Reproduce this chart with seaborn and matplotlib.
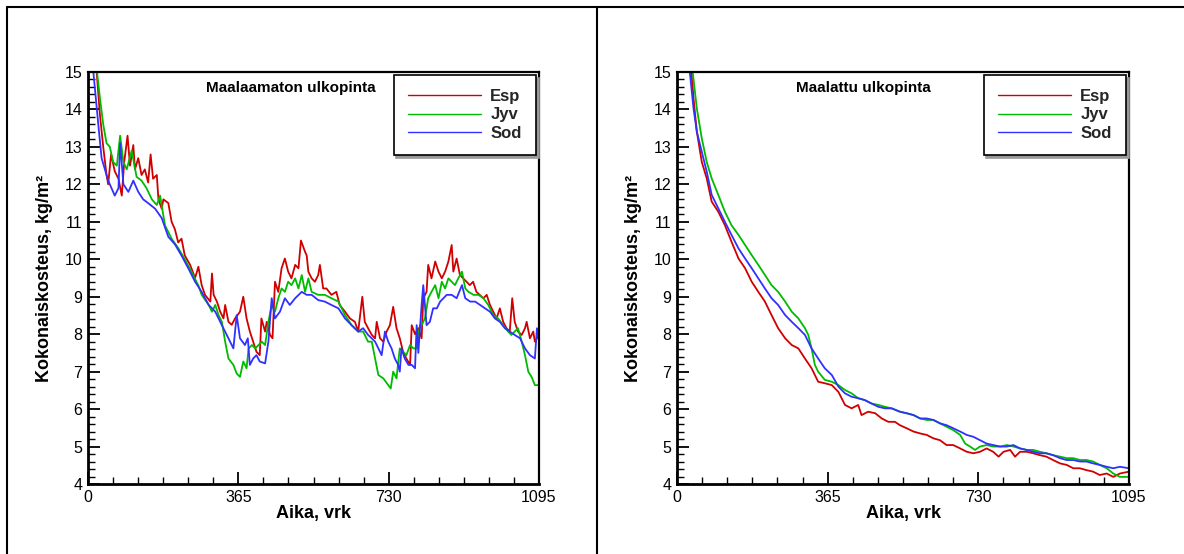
import matplotlib
matplotlib.use("Agg")
import matplotlib.pyplot as plt
import seaborn as sns
import pandas as pd
from matplotlib.ticker import MultipleLocator, FixedLocator
from matplotlib.lines import Line2D

# ---------------- data ----------------
sites = ["Esp", "Jyv", "Sod"]
colors = ["#d00000", "#00bb00", "#3030ff"]
x_ticks = [0, 365, 730, 1095]

# Panel 1: Maalaamaton ulkopinta
p1_esp_day = [0, 21, 29, 37, 45, 49, 56, 65, 74, 82, 88, 96, 102, 110, 114, 122, 130, 138, 146, 152,
              158, 167, 171, 179, 183, 195, 203, 211, 219, 227, 235, 248, 260, 268, 276, 284, 297, 301,
              305, 313, 321, 329, 333, 341, 349, 357, 369, 377, 385, 393, 401, 409, 417, 421, 430, 434,
              442, 448, 454, 462, 470, 478, 486, 494, 503, 511, 517, 527, 531, 535, 543, 551, 559, 563,
              571, 579, 591, 603, 611, 624, 636, 648, 656, 666, 672, 680, 689, 697, 701, 709, 717, 725,
              733, 741, 749, 757, 765, 773, 782, 786, 794, 802, 810, 814, 822, 826, 834, 843, 851, 859,
              867, 875, 883, 887, 895, 903, 911, 919, 927, 935, 943, 951, 960, 968, 976, 984, 992, 1000,
              1008, 1016, 1024, 1030, 1036, 1044, 1053, 1061, 1065, 1073, 1081, 1085, 1095]
p1_esp_val = [16.5, 15.0, 13.85, 13.0, 12.25, 12.0, 12.8, 12.35, 12.15, 11.7, 12.6, 13.3, 12.5, 13.05, 12.4,
              12.7, 12.25, 12.4, 12.05, 12.8, 12.15, 12.25, 11.6, 11.35, 11.6, 11.5, 11.0, 10.8, 10.45,
              10.55, 10.1, 9.85, 9.5, 9.8, 9.31, 9.05, 8.87, 9.62, 9.05, 8.87, 8.6, 8.42, 8.78, 8.33, 8.25,
              8.42, 8.6, 9.0, 8.42, 8.07, 7.8, 7.53, 7.44, 8.42, 8.07, 8.33, 7.98, 7.89, 9.4, 9.13, 9.76,
              10.02, 9.67, 9.49, 9.85, 9.76, 10.5, 10.2, 10.1, 9.67, 9.49, 9.4, 9.58, 9.85, 9.22, 9.22,
              9.05, 9.13, 8.78, 8.6, 8.42, 8.33, 8.07, 9.0, 8.33, 8.16, 7.98, 7.89, 8.33, 7.89, 7.8, 8.07,
              8.24, 8.73, 8.16, 7.89, 7.53, 7.35, 7.18, 8.24, 8.0, 8.16, 7.89, 8.96, 9.13, 9.85, 9.49, 9.94,
              9.67, 9.49, 9.67, 9.94, 10.38, 9.67, 10.02, 9.58, 9.49, 9.4, 9.31, 9.4, 9.13, 9.05, 8.96,
              9.05, 8.78, 8.6, 8.42, 8.69, 8.33, 8.16, 8.07, 8.96, 8.33, 8.07, 7.98, 8.16, 8.33, 7.89, 8.07,
              7.8, 7.98]

p1_jyv_day = [0, 22, 29, 37, 45, 53, 61, 70, 78, 86, 94, 106, 118, 130, 142, 155, 167, 175, 187, 203, 219,
              235, 252, 268, 276, 293, 301, 309, 317, 325, 333, 341, 353, 361, 369, 377, 385, 390, 398,
              406, 414, 422, 430, 438, 446, 454, 462, 470, 478, 486, 494, 503, 511, 519, 527, 535, 543,
              559, 575, 591, 608, 624, 640, 656, 668, 680, 689, 697, 705, 717, 729, 735, 741, 749, 757,
              765, 773, 782, 790, 798, 806, 810, 818, 826, 834, 843, 851, 859, 867, 875, 883, 891, 899,
              908, 916, 924, 936, 948, 960, 972, 984, 996, 1008, 1020, 1028, 1036, 1044, 1053, 1061, 1069,
              1077, 1085, 1095]
p1_jyv_val = [17.0, 15.0, 14.3, 13.6, 13.1, 13.0, 12.6, 12.5, 13.3, 12.6, 12.4, 12.9, 12.2, 12.1, 11.9,
              11.6, 11.45, 11.7, 10.9, 10.55, 10.3, 10.0, 9.65, 9.3, 9.05, 8.78, 8.6, 8.78, 8.51, 8.33, 7.8,
              7.35, 7.18, 6.95, 6.86, 7.27, 7.09, 7.62, 7.71, 7.62, 7.71, 7.8, 7.71, 8.33, 8.78, 8.6, 8.96,
              9.22, 9.13, 9.4, 9.31, 9.49, 9.22, 9.58, 9.13, 9.49, 9.13, 9.05, 9.05, 8.96, 8.87, 8.51, 8.24,
              8.07, 8.07, 7.8, 7.8, 7.35, 6.91, 6.82, 6.64, 6.55, 7.0, 6.82, 7.62, 7.53, 7.44, 7.71, 7.62,
              7.62, 8.24, 8.24, 8.42, 8.96, 9.13, 9.31, 8.96, 9.4, 9.22, 9.49, 9.4, 9.31, 9.49, 9.67, 9.22,
              9.13, 9.05, 9.05, 8.96, 8.78, 8.51, 8.42, 8.24, 8.07, 7.98, 8.07, 8.16, 7.8, 7.44, 7.0, 6.86,
              6.64, 6.64]

p1_sod_day = [0, 13, 25, 33, 49, 65, 74, 78, 86, 98, 110, 122, 134, 146, 163, 179, 195, 211, 227, 244, 260,
              276, 293, 309, 325, 341, 353, 361, 369, 381, 388, 393, 401, 409, 417, 430, 438, 446, 454,
              466, 478, 490, 503, 519, 531, 543, 559, 575, 591, 608, 624, 640, 656, 668, 680, 689, 697,
              705, 713, 721, 729, 737, 745, 753, 757, 761, 769, 778, 786, 794, 798, 802, 810, 814, 822,
              830, 838, 847, 855, 863, 871, 883, 895, 908, 916, 928, 940, 952, 964, 976, 988, 1000, 1012,
              1024, 1036, 1049, 1061, 1073, 1085, 1090, 1095]
p1_sod_val = [16.0, 15.0, 13.6, 12.7, 12.1, 11.7, 11.9, 13.1, 12.0, 11.8, 12.1, 11.8, 11.6, 11.5, 11.35,
              11.1, 10.6, 10.4, 10.1, 9.75, 9.4, 9.13, 8.78, 8.6, 8.24, 7.89, 7.62, 8.51, 7.89, 7.71, 7.89,
              7.18, 7.35, 7.44, 7.27, 7.22, 7.8, 8.96, 8.42, 8.6, 8.96, 8.78, 8.96, 9.13, 9.05, 9.05, 8.91,
              8.87, 8.78, 8.69, 8.42, 8.24, 8.07, 8.16, 7.98, 7.89, 7.8, 7.62, 7.44, 8.07, 7.8, 7.62, 7.35,
              7.18, 7.0, 7.62, 7.35, 7.18, 7.18, 7.09, 8.24, 7.5, 8.78, 9.31, 8.24, 8.33, 8.69, 8.69, 8.87,
              8.96, 9.05, 9.05, 8.96, 9.31, 8.96, 8.87, 8.87, 8.78, 8.69, 8.6, 8.42, 8.33, 8.16, 8.07, 7.98,
              7.89, 7.62, 7.44, 7.35, 8.16, 7.89]

# Panel 2: Maalattu ulkopinta
p2_esp_day = [0, 35, 40, 48, 60, 72, 84, 100, 116, 132, 149, 165, 181, 197, 213, 229, 245, 262, 278, 294,
              310, 326, 342, 358, 375, 391, 407, 423, 439, 447, 463, 480, 496, 512, 528, 540, 556, 573,
              589, 605, 621, 637, 653, 669, 686, 702, 718, 734, 750, 766, 779, 791, 807, 819, 831, 847,
              863, 879, 895, 911, 928, 944, 960, 976, 992, 1008, 1024, 1041, 1057, 1073, 1095]
p2_esp_val = [19.0, 15.0, 14.3, 13.41, 12.6, 12.16, 11.54, 11.27, 10.91, 10.47, 10.02, 9.76, 9.4, 9.13,
              8.87, 8.51, 8.16, 7.89, 7.71, 7.62, 7.35, 7.09, 6.73, 6.69, 6.64, 6.46, 6.11, 6.02, 6.11, 5.84,
              5.93, 5.89, 5.75, 5.66, 5.66, 5.57, 5.49, 5.4, 5.35, 5.31, 5.22, 5.17, 5.04, 5.04, 4.95, 4.86,
              4.82, 4.86, 4.95, 4.86, 4.73, 4.86, 4.91, 4.73, 4.86, 4.86, 4.82, 4.77, 4.73, 4.64, 4.55, 4.51,
              4.42, 4.42, 4.37, 4.33, 4.24, 4.28, 4.19, 4.28, 4.33]

p2_jyv_day = [0, 38, 48, 60, 72, 84, 100, 116, 132, 149, 165, 181, 197, 213, 229, 245, 262, 278, 294, 310,
              318, 326, 334, 342, 358, 375, 391, 407, 423, 439, 455, 471, 488, 504, 520, 540, 556, 573,
              589, 605, 621, 637, 653, 669, 686, 698, 710, 722, 734, 750, 766, 783, 799, 815, 831, 847,
              863, 879, 895, 911, 928, 944, 960, 976, 992, 1008, 1024, 1041, 1057, 1073, 1095]
p2_jyv_val = [19.5, 15.0, 14.03, 13.23, 12.6, 12.16, 11.72, 11.27, 10.91, 10.65, 10.38, 10.11, 9.85, 9.58,
              9.31, 9.13, 8.87, 8.6, 8.42, 8.16, 7.98, 7.62, 7.18, 7.0, 6.78, 6.73, 6.64, 6.51, 6.42, 6.29,
              6.24, 6.15, 6.11, 6.06, 6.02, 5.93, 5.89, 5.84, 5.75, 5.71, 5.71, 5.62, 5.53, 5.44, 5.31, 5.08,
              5.0, 4.91, 5.0, 5.04, 5.0, 5.0, 5.04, 5.0, 4.95, 4.91, 4.91, 4.86, 4.82, 4.77, 4.73, 4.69, 4.69,
              4.64, 4.64, 4.6, 4.51, 4.42, 4.28, 4.19, 4.19]

p2_sod_day = [0, 31, 40, 48, 60, 72, 84, 100, 116, 132, 149, 165, 181, 197, 213, 229, 245, 262, 278, 294,
              310, 326, 342, 358, 375, 391, 407, 423, 439, 455, 471, 488, 504, 520, 540, 556, 573, 589,
              605, 621, 637, 653, 669, 686, 702, 718, 734, 750, 766, 783, 799, 815, 831, 847, 863, 879,
              895, 911, 928, 944, 960, 976, 992, 1008, 1024, 1041, 1057, 1073, 1095]
p2_sod_val = [18.5, 15.0, 14.03, 13.41, 12.87, 12.34, 11.72, 11.36, 11.0, 10.65, 10.29, 10.02, 9.76, 9.49,
              9.22, 8.96, 8.78, 8.51, 8.33, 8.16, 7.98, 7.62, 7.35, 7.09, 6.91, 6.6, 6.42, 6.33, 6.29, 6.24,
              6.15, 6.06, 6.02, 6.02, 5.93, 5.89, 5.84, 5.75, 5.75, 5.71, 5.62, 5.57, 5.49, 5.4, 5.31, 5.26,
              5.17, 5.08, 5.04, 5.0, 5.0, 5.04, 4.95, 4.91, 4.86, 4.82, 4.82, 4.77, 4.69, 4.64, 4.64, 4.6,
              4.6, 4.55, 4.51, 4.46, 4.42, 4.46, 4.42]

panels = [
    ("Maalaamaton ulkopinta", [(p1_esp_day, p1_esp_val), (p1_jyv_day, p1_jyv_val), (p1_sod_day, p1_sod_val)]),
    ("Maalattu ulkopinta", [(p2_esp_day, p2_esp_val), (p2_jyv_day, p2_jyv_val), (p2_sod_day, p2_sod_val)]),
]

# ---------------- style ----------------
sns.set_theme(style="white")
plt.rcParams["font.family"] = ["Liberation Sans", "DejaVu Sans"]

W, H = 1184, 554
fig = plt.figure(figsize=(W / 100, H / 100), dpi=100)

axes_px = [(88, 539), (677, 1129)]
title_x = [0.45, 0.412]
y_top, y_bot = 72, 484

for (title, series), (x0, x1), tx in zip(panels, axes_px, title_x):
    ax = fig.add_axes([x0 / W, (H - y_bot) / H, (x1 - x0) / W, (y_bot - y_top) / H])
    frames = []
    for site, (d, v) in zip(sites, series):
        frames.append(pd.DataFrame({"day": d, "value": v, "site": site}))
    df = pd.concat(frames, ignore_index=True)
    sns.lineplot(data=df, x="day", y="value", hue="site", hue_order=sites,
                 palette=dict(zip(sites, colors)), estimator=None, sort=False,
                 linewidth=1.3, ax=ax, legend=False)
    ax.set_xlim(0, 1095)
    ax.set_ylim(4, 15)
    ax.xaxis.set_major_locator(FixedLocator(x_ticks))
    ax.xaxis.set_minor_locator(MultipleLocator(365 / 6))
    ax.yaxis.set_major_locator(MultipleLocator(1))
    ax.yaxis.set_minor_locator(MultipleLocator(0.2))
    ax.tick_params(which="both", direction="in", left=True, bottom=True, top=False, right=False,
                   color="black", labelcolor="black")
    ax.tick_params(which="major", length=8.5, width=1.3, labelsize=11.5, pad=4)
    ax.tick_params(which="minor", length=5, width=1.0)
    for s in ["left", "bottom"]:
        ax.spines[s].set_linewidth(2.0)
        ax.spines[s].set_color("black")
    for s in ["top", "right"]:
        ax.spines[s].set_linewidth(1.6)
        ax.spines[s].set_color("black")
    ax.set_xlabel("Aika, vrk", fontsize=13, fontweight="bold", color="black")
    ax.set_ylabel("Kokonaiskosteus, kg/m²", fontsize=13, fontweight="bold", color="black")
    ax.xaxis.set_label_coords(0.5, -0.05)
    ax.yaxis.set_label_coords(-0.078, 0.5)
    ax.text(tx, 0.961, title, transform=ax.transAxes, ha="center", va="center",
            fontsize=11, fontweight="bold", color="black")
    handles = [Line2D([0], [0], color=c, lw=1.0) for c in colors]
    leg = ax.legend(handles, sites, loc="upper right", bbox_to_anchor=(0.993, 0.993),
                    borderaxespad=0, prop={"weight": "bold", "size": 12},
                    handlelength=4.4, handletextpad=0.55, borderpad=0.85, labelspacing=0.2,
                    frameon=True, fancybox=False, edgecolor="black", framealpha=1,
                    shadow={"color": "0.6", "alpha": 1.0})
    leg.get_frame().set_linewidth(1.2)

# panel frames
fig.add_artist(Line2D([7 / W, 7 / W], [0, 1 - 6.5 / H], transform=fig.transFigure, color="black", lw=1.5))
fig.add_artist(Line2D([7 / W, 1], [1 - 6.5 / H, 1 - 6.5 / H], transform=fig.transFigure, color="black", lw=1.5))
fig.add_artist(Line2D([597 / W, 597 / W], [0, 1 - 6.5 / H], transform=fig.transFigure, color="black", lw=1.5))

fig.savefig("out.png", dpi=100, facecolor="white")
